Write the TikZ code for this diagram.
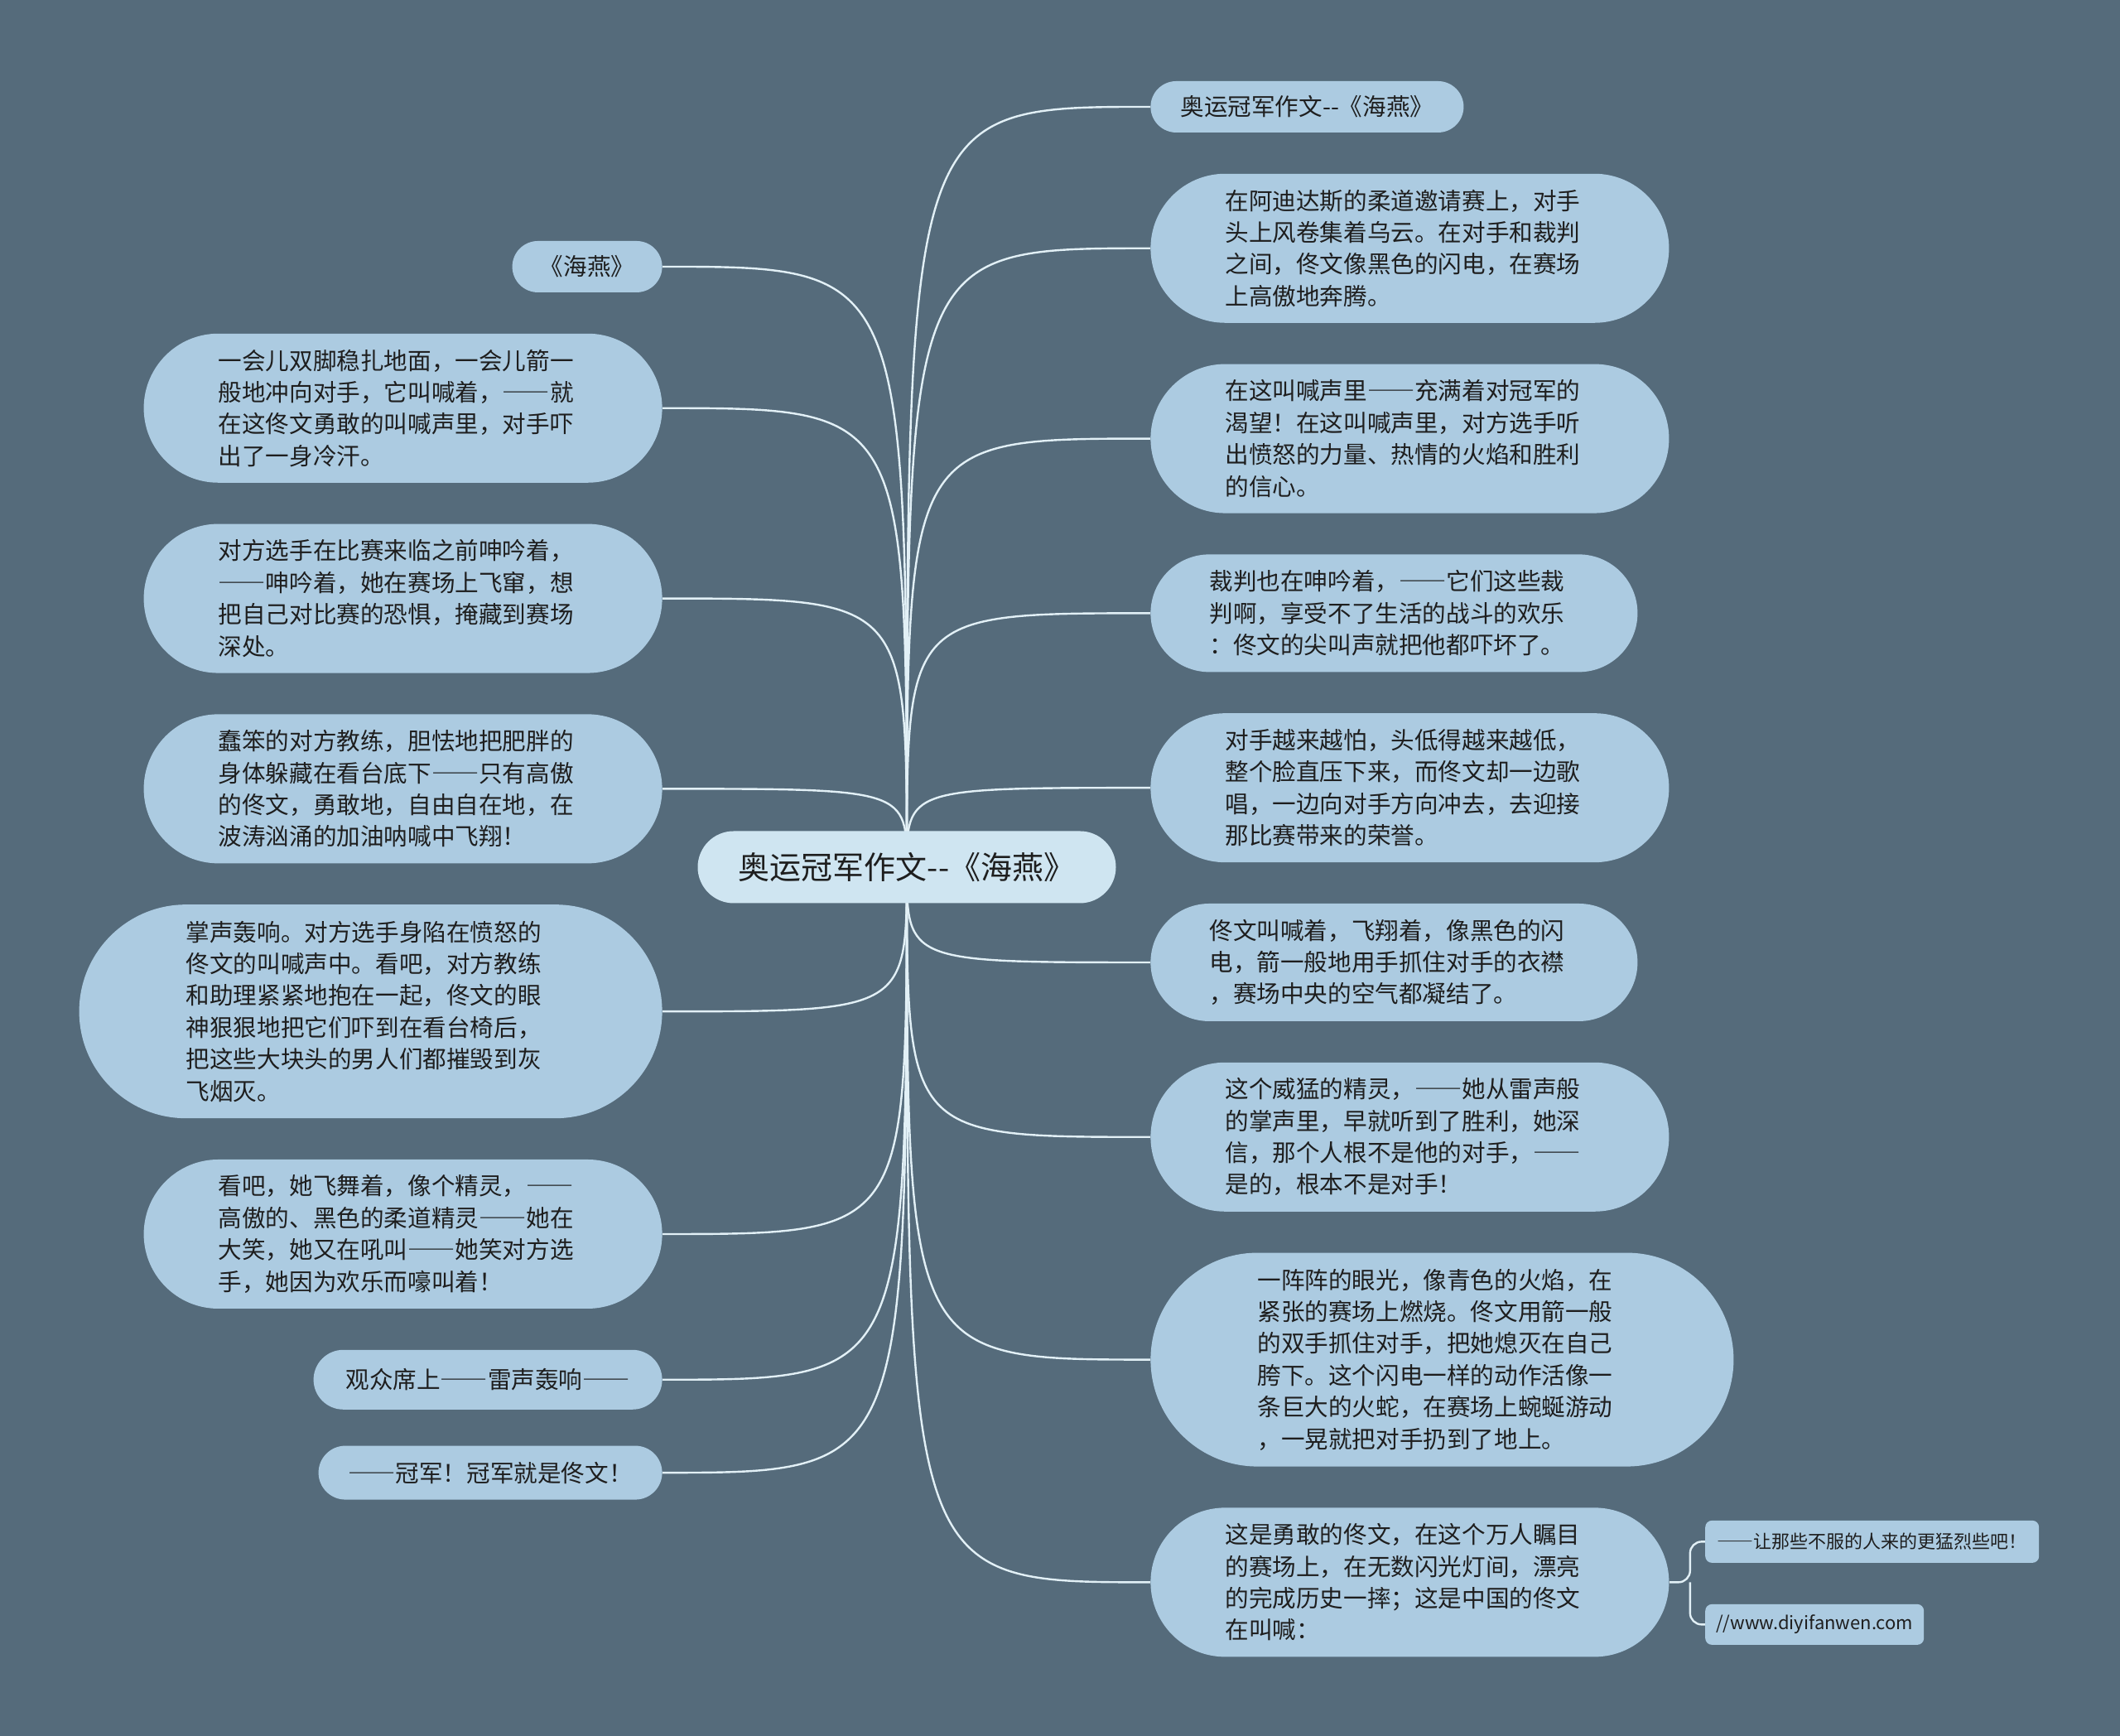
\documentclass[tikz,border=0pt]{standalone}
\usepackage{fontspec}
\setmainfont{Noto Sans CJK SC}
\usetikzlibrary{positioning, backgrounds}
\definecolor{bgslate}{RGB}{85,107,123}
\definecolor{leafblue}{RGB}{172,203,225}
\definecolor{rootblue}{RGB}{207,229,241}
\definecolor{linkcol}{RGB}{226,240,246}
\definecolor{inkcol}{RGB}{30,30,30}
\newcommand{\hy}{-\kern0pt-}
\newcommand{\dd}{{\addfontfeature{CharacterWidth=Full}——}}

\begin{document}
\begin{tikzpicture}[
    rootbox/.style={fill=rootblue, text=inkcol, rounded corners=21.75pt,
                    minimum width=252.5pt, minimum height=43.5pt, inner sep=0pt,
                    font=\fontsize{19}{24}\selectfont},
    leafbox/.style={fill=leafblue, text=inkcol, inner ysep=0pt, align=left,
                    text width=223pt, font=\fontsize{14.3}{19.2}\selectfont},
    h3/.style={leafbox, minimum height=71pt, inner xsep=35.5pt, rounded corners=35.5pt},
    h4/.style={leafbox, minimum height=90pt, inner xsep=45pt, rounded corners=45pt},
    h6/.style={leafbox, minimum height=129pt, inner xsep=64.5pt, rounded corners=64.5pt},
    tagbox/.style={fill=leafblue, text=inkcol, inner sep=0pt, minimum height=31pt,
                   rounded corners=15.5pt, font=\fontsize{14.3}{19.2}\selectfont},
    notebox/.style={fill=leafblue, text=inkcol, inner sep=0pt, rounded corners=4pt,
                    font=\fontsize{11}{14}\selectfont},
    linkline/.style={draw=linkcol, line width=1.2pt},
    node distance=24.5pt,
  ]
  \node[rootbox] (root) at (547.5pt,524.5pt) {奥运冠军作文\hy{}《海燕》};

  \node[tagbox, minimum width=189pt, anchor=west] (r1) at (694.5pt,983.5pt) {奥运冠军作文\hy{}《海燕》};
  \node[h4, below=of r1.south west, anchor=north west] (r2) {在阿迪达斯的柔道邀请赛上，对手\\头上风卷集着乌云。在对手和裁判\\之间，佟文像黑色的闪电，在赛场\\上高傲地奔腾。};
  \node[h4, below=of r2.south west, anchor=north west] (r3) {在这叫喊声里\dd{}充满着对冠军的\\渴望！在这叫喊声里，对方选手听\\出愤怒的力量、热情的火焰和胜利\\的信心。};
  \node[h3, below=of r3.south west, anchor=north west] (r4) {裁判也在呻吟着，\dd{}它们这些裁\\判啊，享受不了生活的战斗的欢乐\\：佟文的尖叫声就把他都吓坏了。};
  \node[h4, below=of r4.south west, anchor=north west] (r5) {对手越来越怕，头低得越来越低，\\整个脸直压下来，而佟文却一边歌\\唱，一边向对手方向冲去，去迎接\\那比赛带来的荣誉。};
  \node[h3, below=of r5.south west, anchor=north west] (r6) {佟文叫喊着，飞翔着，像黑色的闪\\电，箭一般地用手抓住对手的衣襟\\，赛场中央的空气都凝结了。};
  \node[h4, below=of r6.south west, anchor=north west] (r7) {这个威猛的精灵，\dd{}她从雷声般\\的掌声里，早就听到了胜利，她深\\信，那个人根不是他的对手，\dd{}\\是的，根本不是对手！};
  \node[h6, below=of r7.south west, anchor=north west] (r8) {一阵阵的眼光，像青色的火焰，在\\紧张的赛场上燃烧。佟文用箭一般\\的双手抓住对手，把她熄灭在自己\\胯下。这个闪电一样的动作活像一\\条巨大的火蛇，在赛场上蜿蜒游动\\，一晃就把对手扔到了地上。};
  \node[h4, below=of r8.south west, anchor=north west] (r9) {这是勇敢的佟文，在这个万人瞩目\\的赛场上，在无数闪光灯间，漂亮\\的完成历史一摔；这是中国的佟文\\在叫喊：};

  \node[notebox, minimum width=201.5pt, minimum height=25.5pt,
        above right=24.5pt and 21.5pt of r9.east, anchor=west] (s1) {\dd{}让那些不服的人来的更猛烈些吧！};
  \node[notebox, minimum width=132pt, minimum height=24.5pt,
        below right=25.5pt and 21.5pt of r9.east, anchor=west] (s2) {//www.diyifanwen.com};

  \node[tagbox, minimum width=90.5pt, anchor=east] (l1) at (400pt,887pt) {《海燕》};
  \node[h4, below=of l1.south east, anchor=north east] (l2) {一会儿双脚稳扎地面，一会儿箭一\\般地冲向对手，它叫喊着，\dd{}就\\在这佟文勇敢的叫喊声里，对手吓\\出了一身冷汗。};
  \node[h4, below=of l2.south east, anchor=north east] (l3) {对方选手在比赛来临之前呻吟着，\\\dd{}呻吟着，她在赛场上飞窜，想\\把自己对比赛的恐惧，掩藏到赛场\\深处。};
  \node[h4, below=of l3.south east, anchor=north east] (l4) {蠢笨的对方教练，胆怯地把肥胖的\\身体躲藏在看台底下\dd{}只有高傲\\的佟文，勇敢地，自由自在地，在\\波涛汹涌的加油呐喊中飞翔！};
  \node[h6, below=of l4.south east, anchor=north east] (l5) {掌声轰响。对方选手身陷在愤怒的\\佟文的叫喊声中。看吧，对方教练\\和助理紧紧地抱在一起，佟文的眼\\神狠狠地把它们吓到在看台椅后，\\把这些大块头的男人们都摧毁到灰\\飞烟灭。};
  \node[h4, below=of l5.south east, anchor=north east] (l6) {看吧，她飞舞着，像个精灵，\dd{}\\高傲的、黑色的柔道精灵\dd{}她在\\大笑，她又在吼叫\dd{}她笑对方选\\手，她因为欢乐而嚎叫着！};
  \node[tagbox, minimum width=210.5pt, minimum height=36pt, rounded corners=18pt,
        below=of l6.south east, anchor=north east] (l7) {观众席上\dd{}雷声轰响\dd{}};
  \node[tagbox, minimum width=207.5pt, minimum height=32.5pt, rounded corners=16.25pt,
        below=21.5pt of l7.south east, anchor=north east] (l8) {\dd{}冠军！冠军就是佟文！};

  \begin{scope}[on background layer]
    \fill[bgslate] (0,0) rectangle (1280pt,1048pt);
    \foreach \i in {1,...,9}
      \draw[linkline] (root.center) .. controls (root.center |- r\i.west) .. (r\i.west);
    \foreach \i in {1,...,8}
      \draw[linkline] (root.center) .. controls (root.center |- l\i.east) .. (l\i.east);
    \path (r9.east) ++(12.5pt,0) coordinate (fork);
    \draw[linkline, rounded corners=7pt] (r9.east) -- (fork) |- (s1.west);
    \draw[linkline, rounded corners=7pt] (fork) |- (s2.west);
  \end{scope}
\end{tikzpicture}
\end{document}
